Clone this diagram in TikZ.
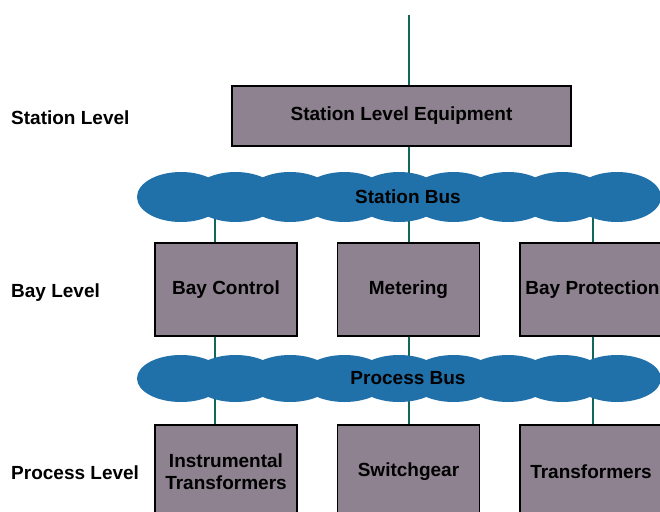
\documentclass[tikz,border=0pt]{standalone}
\usepackage{fontspec}
\setmainfont{Liberation Sans}
\usetikzlibrary{backgrounds}
\definecolor{boxgray}{RGB}{142,130,144}
\definecolor{busblue}{RGB}{32,112,170}
\definecolor{linkgreen}{RGB}{16,104,92}
\begin{document}
\begin{tikzpicture}[x=1pt,y=-1pt,
    every node/.style={font=\fontsize{19}{22}\selectfont\bfseries},
    equip/.style={draw=black,line width=1.6pt,fill=boxgray,inner sep=0pt,
      minimum width=142pt,minimum height=93pt,align=center},
    lvl/.style={anchor=west,inner sep=0pt},
    busname/.style={inner sep=0pt},
    blob/.style={fill=busblue},
    link/.style={draw=linkgreen,line width=2.6pt}]
        \useasboundingbox (0,0) rectangle (660,511);
        % columns of the links
        \coordinate (colA) at (215,0);
        \coordinate (colB) at (409,0);
        \coordinate (colC) at (593,0);
        \coordinate (topend) at (409,15);
        % level labels
        \node[lvl] (stlvl) at (11,118) {Station Level};
        \node[lvl] (baylvl) at (11,293) {Bay Level};
        \node[lvl] (prlvl) at (11,473) {Process Level};
        % station level
        \node[equip,minimum width=339pt,minimum height=60pt] (sle) at (401.5,116) {Station Level Equipment};
        % station bus
        \foreach \i in {0,...,8}
          \path[blob] (181+54.5*\i,197) ellipse [x radius=44pt, y radius=25pt];
        \node[busname] (sbus) at (408,197) {Station Bus};
        % bay level
        \node[equip] (bayctl) at (226,289.5) {Bay Control};
        \node[equip] (meter) at (408.5,289.5) {Metering};
        \node[equip] (bayprot) at (591,289.5) {\hspace*{3pt}Bay Protection};
        % process bus
        \foreach \i in {0,...,8}
          \path[blob] (181+54.5*\i,378.5) ellipse [x radius=44pt, y radius=23.5pt];
        \node[busname] (pbus) at (408,378.5) {Process Bus};
        % process level
        \node[equip] (instr) at (226,471.5) {Instrumental\\Transformers};
        \node[equip] (swgear) at (408.5,471.5) {Switchgear};
        \node[equip] (trafo) at (591,471.5) {Transformers};
        % links
        \begin{scope}[on background layer]
        \draw[link] (topend) -- (sle.north -| colB);
        \draw[link] (sle.south -| colB) -- (sbus.center -| colB);
        \draw[link] (sbus.center -| colA) -- (bayctl.north -| colA);
        \draw[link] (sbus.center -| colB) -- (meter.north -| colB);
        \draw[link] (sbus.center -| colC) -- (bayprot.north -| colC);
        \draw[link] (bayctl.south -| colA) -- (pbus.center -| colA);
        \draw[link] (meter.south -| colB) -- (pbus.center -| colB);
        \draw[link] (bayprot.south -| colC) -- (pbus.center -| colC);
        \draw[link] (pbus.center -| colA) -- (instr.north -| colA);
        \draw[link] (pbus.center -| colB) -- (swgear.north -| colB);
        \draw[link] (pbus.center -| colC) -- (trafo.north -| colC);
        \end{scope}
\end{tikzpicture}
\end{document}
